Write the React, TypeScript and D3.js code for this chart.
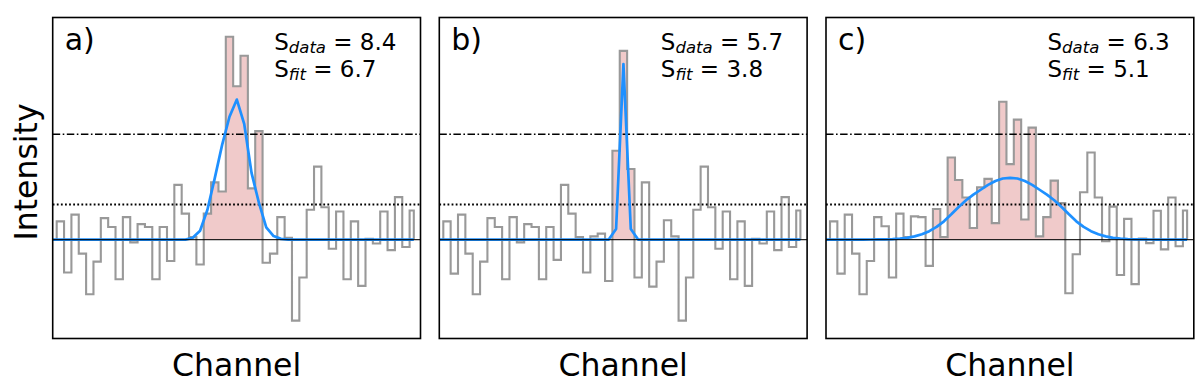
import React from "react";
import * as d3 from "d3";

// ---------- data ----------
const panelLabels = ["a)", "b)", "c)"];
const sDataValues = ["8.4", "5.7", "6.3"];
const sFitValues = ["6.7", "3.8", "5.1"];
const xLabel = "Channel";
const yLabel = "Intensity";
const sigmaLevels = [1, 3]; // dotted at 1 sigma, dash-dot at 3 sigma

const spectrumA = [
  0.52, -0.94, 0.71, -0.4, -1.56, -0.63, 0.61, 0.36, -1.13, 0.64, -0.08, 0.44, 0.36, -1.13, 0.36, -0.61,
  1.56, 0.74, 0.07, -0.71, 0.74, 1.63, 1.37, 5.78, 4.37, 5.24, 1.46, 3.09, -0.66, -0.4, 0.64, 0.05,
  -2.31, -1.08, 0.85, 2.08, 0.92, -0.26, 0.8, -1.13, 0.52, -1.32, 0.02, -0.11, 0.8, -0.3, 1.21, -0.21, 0.83,
];
const spectrumB = [
  0.52, -0.97, 0.71, -0.4, -1.56, -0.63, 0.61, 0.36, -1.13, 0.64, -0.08, 0.44, 0.36, -1.13, 0.36, -0.58,
  1.56, 0.74, 0.07, -0.94, 0.09, 0.17, -1.18, 2.53, 5.38, 2.01, -1.08, 1.63, -1.34, -0.63, 0.55, 0.09,
  -2.31, -1.08, 0.85, 2.08, 0.92, -0.26, 0.8, -1.13, 0.52, -1.32, 0.02, -0.11, 0.8, -0.3, 1.21, -0.21, 0.83,
];
const spectrumC = [
  0.52, -0.97, 0.71, -0.4, -1.56, -0.61, 0.64, 0.38, -1.08, 0.74, 0.07, 0.66, 0.64, -0.75, 0.87, 0.07,
  2.34, 1.7, 1.2, 0.33, 1.49, 1.73, 0.47, 3.93, 2.15, 3.42, 0.57, 3.19, 0.09, 0.64, 1.68, 1.04,
  -1.53, -0.42, 1.35, 2.48, 1.2, -0.05, 0.94, -1.01, 0.59, -1.27, 0.03, -0.1, 0.82, -0.28, 1.2, -0.19, 0.83,
];

const fitA = [
  0, 0, 0, 0, 0, 0, 0, 0, 0, 0, 0, 0, 0, 0, 0, 0,
  0, 0, 0.05, 0.25, 0.85, 1.75, 2.7, 3.5, 3.99, 3.3, 1.9, 1.05, 0.35, 0.1, 0.02, 0,
  0, 0, 0, 0, 0, 0, 0, 0, 0, 0, 0, 0, 0, 0, 0, 0, 0,
];
const fitB = [
  0, 0, 0, 0, 0, 0, 0, 0, 0, 0, 0, 0, 0, 0, 0, 0,
  0, 0, 0, 0, 0, 0, 0, 0.3, 5.0, 0.3, 0, 0, 0, 0, 0, 0,
  0, 0, 0, 0, 0, 0, 0, 0, 0, 0, 0, 0, 0, 0, 0, 0, 0,
];
const fitC = [
  0, 0, 0, 0.001, 0.001, 0.002, 0.004, 0.008, 0.015, 0.03, 0.05, 0.09, 0.15, 0.24, 0.36, 0.52,
  0.72, 0.93, 1.12, 1.28, 1.42, 1.56, 1.67, 1.74, 1.76, 1.74, 1.67, 1.56, 1.42, 1.28, 1.12, 0.93,
  0.72, 0.52, 0.36, 0.24, 0.15, 0.09, 0.05, 0.03, 0.015, 0.008, 0.004, 0.002, 0.001, 0.001, 0, 0, 0,
];

// channel windows of the shaded (integrated) region, inclusive
const windowA = [20, 27];
const windowB = [23, 25];
const windowC = [14, 31];

const spectra = [spectrumA, spectrumB, spectrumC];
const fits = [fitA, fitB, fitC];
const windows = [windowA, windowB, windowC];

const xDomain = [-0.544, 49.48];
const lastEdge = 48.57;
const yDomain = [-2.82, 6.33];

// ---------- layout ----------
const W = 1200;
const H = 386;
const panelLefts = [52.7, 439.3, 826];
const panelW = 367.8;
const top = 17.5;
const bottom = 338.5;
const FONT = "DejaVu Sans, Liberation Sans, sans-serif";

function Panel({ idx }: { idx: number }) {
  const pl = panelLefts[idx];
  const x = d3.scaleLinear().domain(xDomain).range([pl, pl + panelW]);
  const y = d3.scaleLinear().domain(yDomain).range([bottom, top]);
  const values = spectra[idx];
  const fit = fits[idx];
  const [ws, we] = windows[idx];

  // step outline
  const pts: [number, number][] = [[0, 0]];
  values.forEach((v, k) => {
    const x1 = k === values.length - 1 ? lastEdge : k + 1;
    pts.push([k, v]);
    pts.push([x1, v]);
  });
  pts.push([lastEdge, 0]);
  const line = d3
    .line<[number, number]>()
    .x((d) => x(d[0]))
    .y((d) => y(d[1]));
  const stepPath = line(pts) || "";

  // shaded region
  const fillPts: [number, number][] = [];
  for (let k = ws; k <= we; k++) {
    fillPts.push([k, Math.max(0, values[k])]);
  }
  fillPts.push([we + 1, Math.max(0, values[we])]);
  const area = d3
    .area<[number, number]>()
    .x((d) => x(d[0]))
    .y0(y(0))
    .y1((d) => y(d[1]))
    .curve(d3.curveStepAfter);
  const fillPath = area(fillPts) || "";

  // fit curve
  const fitPts: [number, number][] = [[xDomain[0], fit[0]]];
  fit.forEach((v, k) => fitPts.push([k + 0.5, v]));
  fitPts.push([lastEdge, fit[fit.length - 1]]);
  const fitPath = line(fitPts) || "";

  const x0 = pl;
  const x1 = pl + panelW;
  const cx = pl + panelW / 2;
  const tx = pl + 221.5;

  return (
    <g>
      <path d={fillPath} fill="#f0caca" stroke="none" />
      <path d={stepPath} fill="none" stroke="#999" strokeWidth={2.1} strokeLinejoin="miter" />
      <line x1={x0} x2={x1} y1={y(sigmaLevels[0])} y2={y(sigmaLevels[0])} stroke="#000" strokeWidth={1.8} strokeDasharray="1.8,2.3" />
      <line x1={x0} x2={x1} y1={y(sigmaLevels[1])} y2={y(sigmaLevels[1])} stroke="#000" strokeWidth={1.4} strokeDasharray="7.5,2.5,1.6,2.5" />
      <path d={fitPath} fill="none" stroke="#1e90ff" strokeWidth={2.7} strokeLinejoin="round" />
      <line x1={x0} x2={x1} y1={y(0)} y2={y(0)} stroke="#000" strokeWidth={1.3} strokeOpacity={0.85} />
      <rect x={x0} y={top} width={panelW} height={bottom - top} fill="none" stroke="#000" strokeWidth={1.6} />
      <text x={pl + 12} y={50} fontSize={30} fontFamily={FONT} fill="#000">
        {panelLabels[idx]}
      </text>
      <text x={tx} y={50} fontSize={23} fontFamily={FONT} fill="#000">
        S
        <tspan fontSize={16.5} fontStyle="italic" dy={3}>
          data
        </tspan>
        <tspan dy={-3}>{" = " + sDataValues[idx]}</tspan>
      </text>
      <text x={tx} y={77} fontSize={23} fontFamily={FONT} fill="#000">
        S
        <tspan fontSize={16.5} fontStyle="italic" dy={3}>
          fit
        </tspan>
        <tspan dy={-3}>{" = " + sFitValues[idx]}</tspan>
      </text>
      <text x={cx} y={376} fontSize={31.5} fontFamily={FONT} textAnchor="middle" fill="#000">
        {xLabel}
      </text>
    </g>
  );
}

export default function App() {
  return (
    <div style={{ position: "absolute", left: 0, top: 0, width: W, height: H, background: "#fff" }}>
      <svg width={W} height={H} style={{ display: "block" }}>
        <rect x={0} y={0} width={W} height={H} fill="#fff" />
        {[0, 1, 2].map((i) => (
          <Panel key={i} idx={i} />
        ))}
        <text
          transform={`translate(37,172) rotate(-90)`}
          fontSize={31.5}
          fontFamily={FONT}
          textAnchor="middle"
          fill="#000"
        >
          {yLabel}
        </text>
      </svg>
    </div>
  );
}
